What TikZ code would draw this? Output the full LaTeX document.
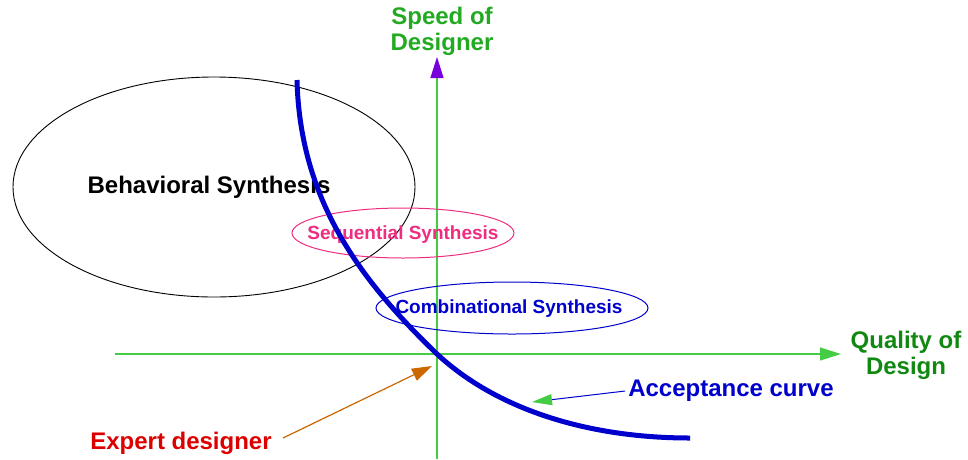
\documentclass[tikz,border=0pt]{standalone}
\usepackage{fontspec}
\setmainfont{Liberation Sans}
\usetikzlibrary{arrows.meta}
\definecolor{axgreen}{HTML}{44CC44}
\definecolor{txgreen}{HTML}{22AA22}
\definecolor{dkgreen}{HTML}{118811}
\definecolor{pinkc}{HTML}{EE2C80}
\definecolor{bluec}{HTML}{0000CC}
\definecolor{redc}{HTML}{DD0000}
\definecolor{orangec}{HTML}{CC6600}
\definecolor{purplec}{HTML}{7700DD}
\tikzset{
  lbl/.style={font=\bfseries\fontsize{24}{26}\selectfont, align=center, inner sep=0pt},
  small/.style={font=\bfseries\fontsize{19}{20}\selectfont, inner sep=0pt},
  axis/.style={axgreen, line width=1.3pt},
}
\begin{document}
\begin{tikzpicture}[x=1pt,y=-1pt]
\useasboundingbox (0,0) rectangle (968,459);
% axes
\coordinate (yb) at (437,459);
\coordinate (yt) at (437,57);
\coordinate (xl) at (115,354);
\coordinate (xr) at (841,354);
\draw[axis, -{Triangle[length=21pt,width=13pt,fill=purplec,color=purplec]}] (yb) -- (yt);
\draw[axis, -{Triangle[length=21pt,width=13pt]}] (xl) -- (xr);
\node[lbl, text=txgreen] (speed) at (442,31) {Speed of\\Designer};
\node[lbl, text=dkgreen] (quality) at (906,355) {Quality of\\Design};
% ellipses
\draw[black, line width=0.9pt] (214,187) ellipse [x radius=201, y radius=110];
\node[lbl] (beh) at (209,187) {Behavioral Synthesis};
\draw[pinkc, line width=1pt] (403,233) ellipse [x radius=111, y radius=25];
\node[small, text=pinkc] (seq) at (403,235) {Sequential Synthesis};
\draw[bluec, line width=1pt] (512,308) ellipse [x radius=136, y radius=26];
\node[small, text=bluec] (comb) at (509,309) {Combinational Synthesis};
% acceptance curve
\coordinate (c0) at (297,80);
\coordinate (c1) at (437,354);
\coordinate (c2) at (690,438);
\coordinate (ca) at (532,402);
\draw[bluec, line width=5pt] (c0) .. controls (300,200) and (360,280) .. (c1)
  .. controls (495,408) and (585,438) .. (c2);
\node[lbl, text=bluec] (acc) at (731,391) {Acceptance curve};
\draw[bluec, line width=1pt, -{Triangle[length=20pt,width=11pt,fill=axgreen,color=axgreen]}] (acc.west) ++(-3,0) -- (ca);
% expert designer
\node[lbl, text=redc] (exp) at (181,443) {Expert designer};
\coordinate (ea) at (432,366);
\draw[orangec, line width=1.2pt, -{Triangle[length=20pt,width=13pt]}] (283,438) -- (ea);
\end{tikzpicture}
\end{document}
